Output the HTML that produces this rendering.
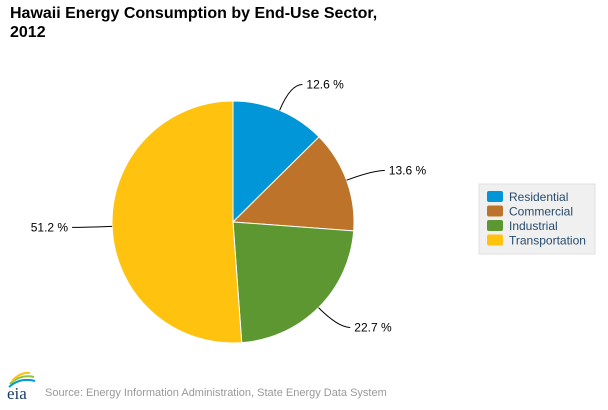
<!DOCTYPE html>
<html><head><meta charset="utf-8"><style>
body{margin:0;width:608px;height:405px;background:#fff;overflow:hidden;font-family:"Liberation Sans",sans-serif}
</style></head><body>
<svg id="c" width="608" height="405" xmlns="http://www.w3.org/2000/svg">
<text x="10" y="18" font-size="16" font-weight="bold" fill="#000">Hawaii Energy Consumption by End-Use Sector,</text>
<text x="10" y="37" font-size="16" font-weight="bold" fill="#000">2012</text>
<g id="pie"></g>
<g id="labels"></g>
<g>
<rect x="479" y="184" width="116" height="70" fill="#f0f0f0" stroke="#e0e0e0"/>
<g id="leg"></g>
</g>
<g>
<path d="M10 384 Q20 374 34 377" stroke="#8dc63f" stroke-width="2" fill="none"/>
<path d="M9 387 Q20 377 35 381" stroke="#0096d7" stroke-width="2" fill="none"/>
<path d="M12 381 Q20 372 30 373" stroke="#ffc20e" stroke-width="2" fill="none"/>
<text x="7" y="399" font-family="Liberation Serif" font-size="17" fill="#1a3a6a">eia</text>
</g>
<text x="45" y="396" font-size="11" fill="#999">Source: Energy Information Administration, State Energy Data System</text>
</svg>
<script>
const categories=["Residential","Commercial","Industrial","Transportation"];
const values=[12.6,13.6,22.7,51.2];
const colors=["#0096d7","#bd732a","#5d9732","#ffc20e"];
const cx=233,cy=222,r=121;
const ns="http://www.w3.org/2000/svg";
const pie=document.getElementById('pie'),lab=document.getElementById('labels'),leg=document.getElementById('leg');
const total=values.reduce((a,b)=>a+b,0);
function pt(a,rad){return [cx+rad*Math.sin(a),cy-rad*Math.cos(a)];}
let a0=0;
values.forEach((v,i)=>{
 const a1=a0+v/total*2*Math.PI;
 const p0=pt(a0,r),p1=pt(a1,r),large=(a1-a0)>Math.PI?1:0;
 const p=document.createElementNS(ns,'path');
 p.setAttribute('d',`M${cx},${cy}L${p0[0]},${p0[1]}A${r},${r} 0 ${large} 1 ${p1[0]},${p1[1]}Z`);
 p.setAttribute('fill',colors[i]);p.setAttribute('stroke','#fff');p.setAttribute('stroke-width','1');
 
 
 pie.appendChild(p);
 const am=(a0+a1)/2,e=pt(am,r),m=pt(am,r+28),right=Math.sin(am)>=0;
 const ex=m[0]+(right?12:-12);
 const l=document.createElementNS(ns,'path');
 l.setAttribute('d',`M${e[0]},${e[1]}Q${m[0]},${m[1]} ${ex},${m[1]}`);
 l.setAttribute('stroke','#000');l.setAttribute('fill','none');l.setAttribute('stroke-width','1');
 
 
 lab.appendChild(l);
 const t=document.createElementNS(ns,'text');
 t.setAttribute('x',ex+(right?4:-4));t.setAttribute('y',m[1]+4);
 t.setAttribute('font-size','12');t.setAttribute('text-anchor',right?'start':'end');
 t.textContent=v.toFixed(1)+' %';
 
 
 lab.appendChild(t);
 const y=191+i*14.5;
 const s=document.createElementNS(ns,'rect');
 s.setAttribute('x',487);s.setAttribute('y',y);s.setAttribute('width',16);s.setAttribute('height',11);s.setAttribute('rx',2);
 s.setAttribute('fill',colors[i]);
 
 
 leg.appendChild(s);
 const lt=document.createElementNS(ns,'text');
 lt.setAttribute('x',509);lt.setAttribute('y',y+10);lt.setAttribute('font-size','12');lt.setAttribute('fill','#274b6d');
 lt.textContent=categories[i];
 
 
 leg.appendChild(lt);
 a0=a1;
});
</script>
</body></html>
